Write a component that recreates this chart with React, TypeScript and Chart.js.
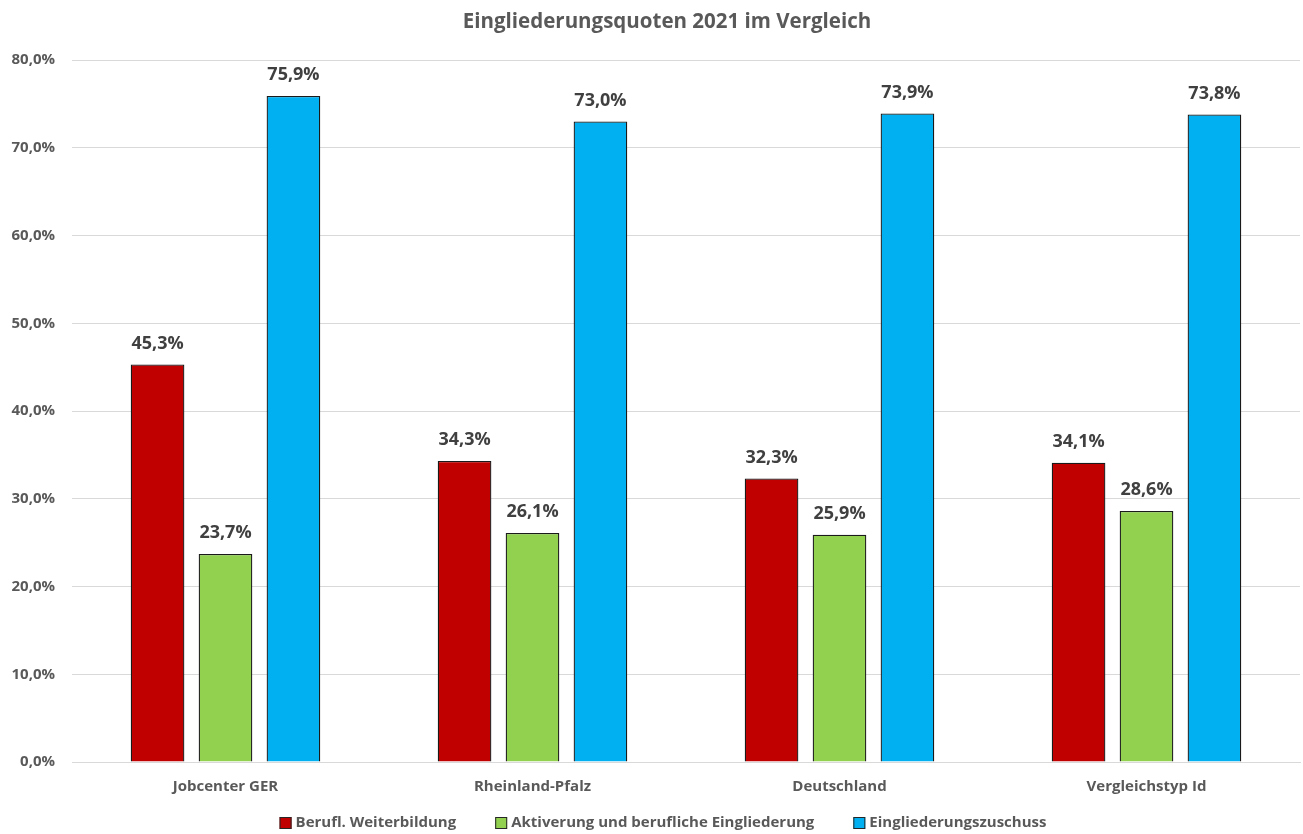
import React, { useEffect, useRef } from "react";
import { Chart, registerables } from "chart.js";

Chart.register(...registerables);

const categories = ["Jobcenter GER", "Rheinland-Pfalz", "Deutschland", "Vergleichstyp Id"];
const weiterbildung = [45.3, 34.3, 32.3, 34.1];
const aktivierung = [23.7, 26.1, 25.9, 28.6];
const zuschuss = [75.9, 73.0, 73.9, 73.8];
const seriesNames = ["Berufl. Weiterbildung", "Aktiverung und berufliche Eingliederung", "Eingliederungszuschuss"];
const seriesColors = ["#C00000", "#92D050", "#00B0F0"];
const titleText = "Eingliederungsquoten 2021 im Vergleich";

const FONT = "'Open Sans', 'Noto Sans', sans-serif";
const fmt = (v: number) => v.toFixed(1).replace(".", ",") + "%";

const labelPlugin = {
  id: "valueLabels",
  afterDatasetsDraw(chart: any) {
    const ctx = chart.ctx;
    ctx.save();
    ctx.font = `bold 18px ${FONT}`;
    ctx.fillStyle = "#404040";
    ctx.textAlign = "center";
    ctx.textBaseline = "middle";
    chart.data.datasets.forEach((ds: any, i: number) => {
      const meta = chart.getDatasetMeta(i);
      meta.data.forEach((bar: any, j: number) => {
        ctx.fillText(fmt(ds.data[j]), bar.x, bar.y - 21);
      });
    });
    ctx.restore();
  },
};

const titleLegendPlugin = {
  id: "titleLegend",
  afterDraw(chart: any) {
    const ctx = chart.ctx;
    ctx.save();
    // title
    ctx.font = `bold 20.5px ${FONT}`;
    ctx.fillStyle = "#595959";
    ctx.textAlign = "center";
    ctx.textBaseline = "middle";
    ctx.fillText(titleText, 667, 22);
    // legend
    ctx.font = `bold 15px ${FONT}`;
    ctx.textAlign = "left";
    const box = 12, gapBox = 4, gapItem = 39;
    const widths = seriesNames.map((n) => ctx.measureText(n).width);
    const total = widths.reduce((a, w) => a + box + gapBox + w, 0) + gapItem * (seriesNames.length - 1);
    let x = 663 - total / 2;
    const y = 823;
    seriesNames.forEach((n, i) => {
      ctx.fillStyle = seriesColors[i];
      ctx.fillRect(x, y - box / 2, box, box);
      ctx.strokeStyle = "#262626";
      ctx.lineWidth = 1;
      ctx.strokeRect(x + 0.5, y - box / 2 + 0.5, box - 1, box - 1);
      ctx.fillStyle = "#595959";
      ctx.fillText(n, x + box + gapBox, y);
      x += box + gapBox + widths[i] + gapItem;
    });
    ctx.restore();
  },
};

export default function App() {
  const ref = useRef<HTMLCanvasElement>(null);
  useEffect(() => {
    if (!ref.current) return;
    const data = [weiterbildung, aktivierung, zuschuss];
    const chart = new Chart(ref.current, {
      type: "bar",
      data: {
        labels: categories,
        datasets: data.map((d, i) => ({
          label: seriesNames[i],
          data: d,
          backgroundColor: seriesColors[i],
          borderColor: "#1a1a1a",
          borderWidth: 1.3,
          categoryPercentage: 0.664,
          barPercentage: 0.79,
        })),
      },
      options: {
        animation: false,
        responsive: false,
        maintainAspectRatio: false,
        layout: { padding: { top: 60, right: 3, left: 0, bottom: 30 } },
        plugins: {
          title: { display: false },
          legend: { display: false },
          tooltip: { enabled: false },
        },
        scales: {
          x: {
            grid: { display: false },
            border: { color: "#d9d9d9" },
            ticks: { color: "#595959", font: { family: FONT, size: 15, weight: "bold" }, padding: 8 },
          },
          y: {
            min: 0,
            max: 80,
            afterFit: (s: any) => { s.width = 72; },
            grid: { color: "#d9d9d9", drawTicks: false },
            border: { display: false },
            ticks: {
              stepSize: 10,
              color: "#595959",
              padding: 17,
              font: { family: FONT, size: 15, weight: "bold" },
              callback: (v: any) => fmt(Number(v)),
            },
          },
        },
      },
      plugins: [labelPlugin, titleLegendPlugin],
    });
    return () => chart.destroy();
  }, []);
  return (
    <div style={{ position: "fixed", left: 0, top: 0, width: 1303, height: 834, background: "#fff" }}>
      <canvas ref={ref} width={1303} height={834} style={{ display: "block" }} />
    </div>
  );
}
